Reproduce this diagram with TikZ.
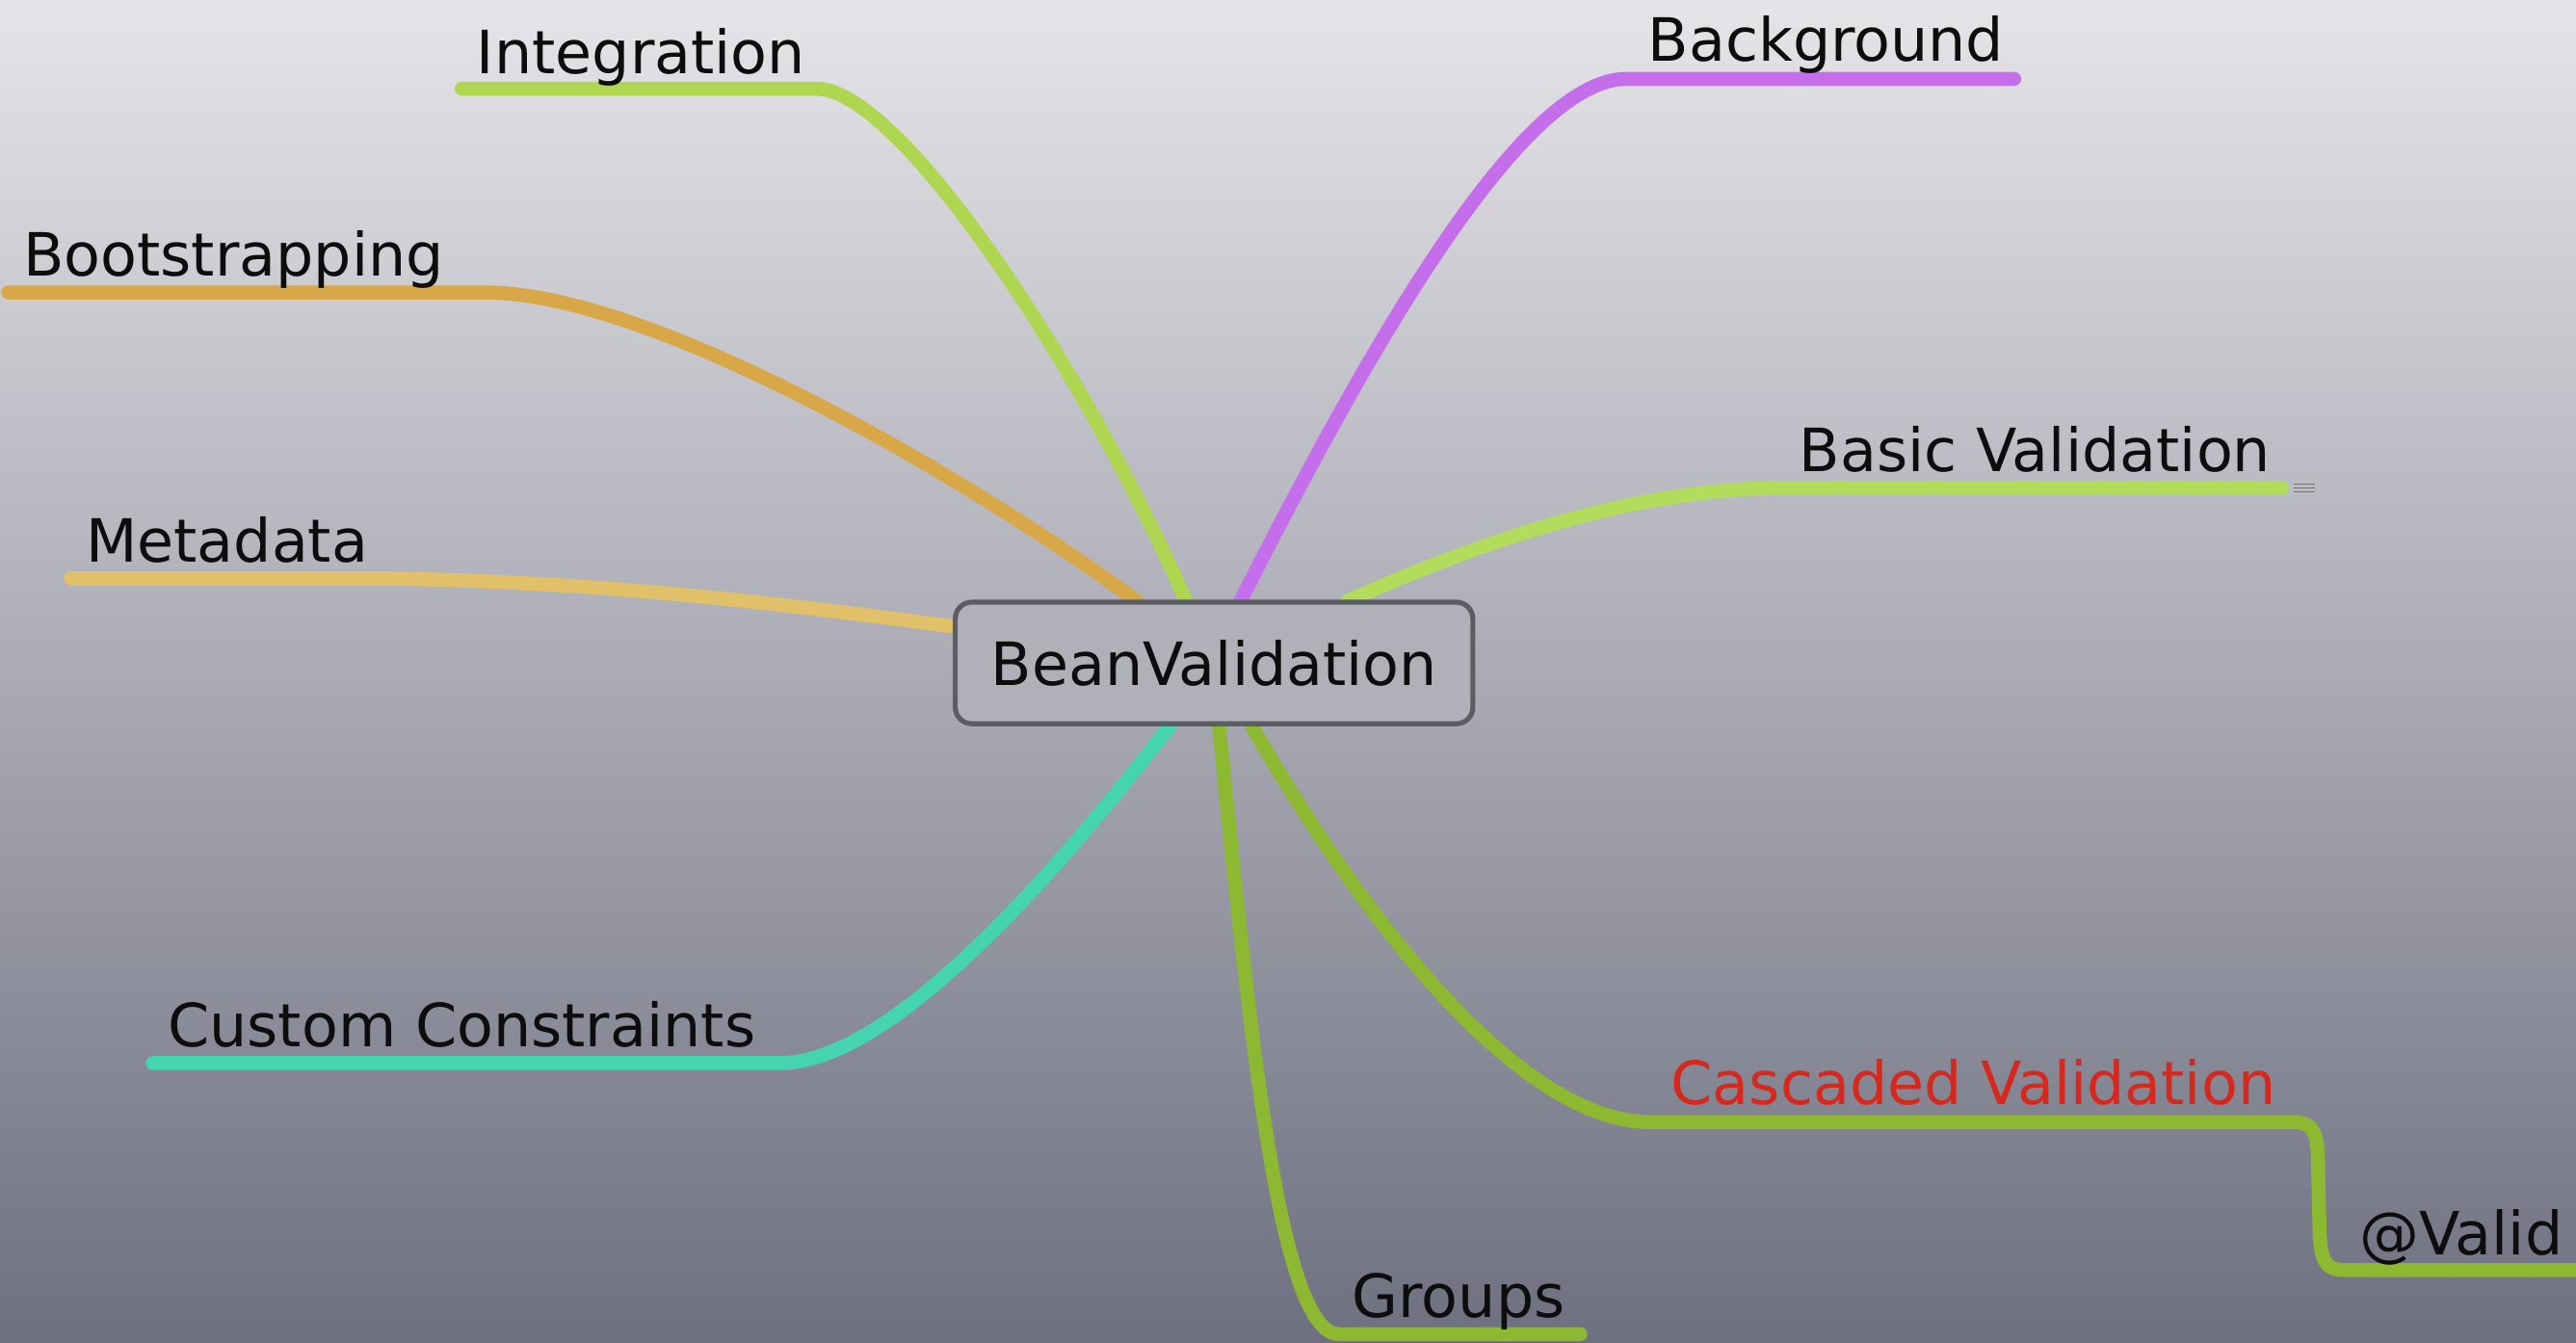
\documentclass[tikz,border=0pt]{standalone}
\usepackage{fontspec}
\setmainfont{DejaVu Sans}
\begin{document}
\definecolor{bgtop}{RGB}{229,229,232}
\definecolor{bgmid}{RGB}{176,176,184}
\definecolor{bgbot}{RGB}{110,112,128}
\definecolor{cLime}{RGB}{174,214,80}
\definecolor{cLime2}{RGB}{178,220,92}
\definecolor{cPurple}{RGB}{196,110,236}
\definecolor{cOrange}{RGB}{216,168,72}
\definecolor{cGold}{RGB}{224,192,104}
\definecolor{cTeal}{RGB}{68,212,176}
\definecolor{cGreen}{RGB}{140,184,50}
\definecolor{cRed}{RGB}{214,40,28}
\definecolor{boxfill}{RGB}{176,176,184}
\definecolor{boxedge}{RGB}{92,92,98}
\begin{tikzpicture}[x=1pt,y=-1pt,
  branch/.style={line width=8.5pt,line cap=round,line join=round},
  topic/.style={anchor=base west,inner sep=0pt,font=\fontsize{36.3}{44}\selectfont,text=black!95},
  rootbox/.style={draw=boxedge,line width=3pt,fill=boxfill,rounded corners=10pt,
    minimum width=315pt,minimum height=74pt,inner sep=0pt,
    font=\fontsize{36.3}{44}\selectfont,text=black!95}]
% backdrop
\shade[top color=bgtop,middle color=bgmid,bottom color=bgbot] (0,0) rectangle (1568,817);
\useasboundingbox (0,0) rectangle (1568,817);

% junctions on the central box
\coordinate (jInt) at (722,366);
\coordinate (jBoot) at (692,366);
\coordinate (jMeta) at (578,381);
\coordinate (jBack) at (755,366);
\coordinate (jBasic) at (820,366);
\coordinate (jCust) at (712,442);
\coordinate (jGrp) at (742,442);
\coordinate (jCasc) at (762,442);

% branch ends
\coordinate (eInt) at (281,54);   \coordinate (kInt) at (497,54);
\coordinate (eBoot) at (5,178);   \coordinate (kBoot) at (295,178);
\coordinate (eMeta) at (43,352);  \coordinate (kMeta) at (230,352);
\coordinate (eBack) at (1226,48); \coordinate (kBack) at (990,48);
\coordinate (eBasic) at (1389,297); \coordinate (kBasic) at (1085,297);
\coordinate (eCust) at (93,647);  \coordinate (kCust) at (475,647);
\coordinate (eGrp) at (962,812);  \coordinate (kGrp) at (815,812);
\coordinate (kCasc) at (1005,683); \coordinate (sCasc) at (1396,683);
\coordinate (tValid) at (1428,773); \coordinate (eValid) at (1580,773);

% branches
\draw[branch,cLime] (jInt) .. controls (660,225) and (548,54) .. (kInt) -- (eInt);
\draw[branch,cOrange] (jBoot) .. controls (600,298) and (400,178) .. (kBoot) -- (eBoot);
\draw[branch,cGold] (jMeta) .. controls (500,371) and (380,354) .. (kMeta) -- (eMeta);
\draw[branch,cPurple] (jBack) .. controls (830,218) and (925,48) .. (kBack) -- (eBack);
\draw[branch,cLime2] (jBasic) .. controls (900,330) and (995,297) .. (kBasic) -- (eBasic);
\draw[branch,cTeal] (jCust) .. controls (650,522) and (545,647) .. (kCust) -- (eCust);
\draw[branch,cGreen] (jGrp) .. controls (760,620) and (778,812) .. (kGrp) -- (eGrp);
\draw[branch,cGreen] (jCasc) .. controls (830,560) and (925,683) .. (kCasc) -- (sCasc)
  .. controls (1410,683) and (1411,692) .. (1411,712) -- (1412,752)
  .. controls (1413,771) and (1418,773) .. (tValid) -- (eValid);

% note marker
\foreach \dy in {-2.2,0,2.2}
  \draw[black!55,line width=0.8pt] (1396,297+\dy) -- (1409,297+\dy);

% topics
\node[topic] (tInt) at (290,45) {Integration};
\node[topic] (tBoot) at (14,168) {Bootstrapping};
\node[topic] (tMeta) at (52,342) {Metadata};
\node[topic] (tBack) at (1003,37) {Background};
\node[topic] (tBasic) at (1095,287) {Basic Validation};
\node[topic] (tCust) at (102,637) {Custom Constraints};
\node[topic] (tGrp) at (823,802) {Groups};
\node[topic,text=cRed] (tCasc) at (1017,672) {Cascaded Validation};
\node[topic] (tValid) at (1436,764) {@Valid};

% central topic
\node[rootbox] (root) at (739,403.5) {BeanValidation};
\end{tikzpicture}
\end{document}
